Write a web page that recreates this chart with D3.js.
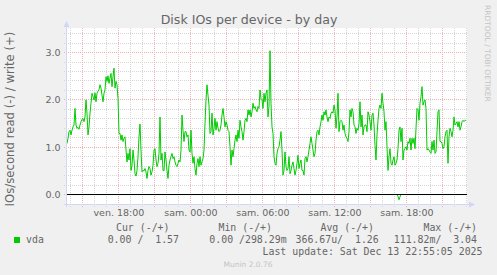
<!DOCTYPE html>
<html>
<head>
<meta charset="utf-8">
<script src="https://cdn.jsdelivr.net/npm/d3@7"></script>
<style>
  html, body { margin: 0; padding: 0; background: #f0f0f0; }
  svg { display: block; }
  text { font-family: "DejaVu Sans", sans-serif; fill: #666; }
  .mono { font-family: "DejaVu Sans Mono", monospace; white-space: pre; }
</style>
</head>
<body>
<svg id="chart" width="497" height="275"></svg>
<script>
// one sample every 5 minutes, first one at ven. 12 déc. 13:43
const startTime = Date.UTC(2025, 11, 12, 13, 43);
const stepMinutes = 5;

// write IOs/s (+)
const writeValues = [
  1.08,1.19,1.33,1.36,1.26,1.36,1.43,1.47,1.82,1.47,
  1.40,1.42,1.38,1.47,1.54,1.59,1.61,1.54,1.64,2.00,
  1.72,1.26,1.43,1.72,1.93,2.14,2.07,2.00,2.15,1.96,
  2.14,2.18,2.22,2.32,2.25,2.10,1.96,2.14,2.21,2.49,
  2.39,2.51,2.35,2.46,2.56,2.28,2.49,2.67,2.25,2.39,
  2.32,2.03,1.29,1.29,1.15,1.26,1.12,1.19,1.22,0.94,
  0.69,0.87,0.73,0.97,0.51,0.62,0.94,0.73,0.44,0.39,
  0.51,0.80,1.22,1.49,0.94,0.48,0.51,0.50,0.55,0.48,
  0.34,0.51,0.59,0.55,0.41,0.48,0.62,0.94,0.97,0.73,
  0.59,0.66,0.87,1.64,0.73,0.87,0.51,0.50,0.90,
  0.73,0.51,0.34,0.62,0.73,0.80,0.87,0.76,0.80,0.69,
  0.62,0.59,0.66,0.73,0.69,0.94,1.68,1.36,1.12,1.33,
  1.33,1.22,1.26,0.94,0.90,1.36,0.87,0.66,0.80,0.55,
  0.41,0.66,0.76,0.59,0.80,0.62,0.69,0.76,0.94,1.50,
  2.00,2.32,2.10,1.89,1.29,1.33,1.72,1.26,1.40,1.61,
  1.36,1.54,1.40,1.33,1.36,1.47,1.68,1.82,1.64,1.43,
  1.54,1.47,1.36,1.33,1.01,0.62,0.94,0.80,0.97,1.15,
  1.26,1.12,1.36,1.19,1.57,1.43,1.33,1.15,1.33,1.57,
  1.61,1.54,1.79,1.68,1.79,1.64,1.75,1.93,1.82,1.86,
  1.79,1.75,1.86,1.82,2.21,2.03,2.00,1.82,2.14,1.96,
  2.14,2.21,1.64,1.86,3.04,1.93,1.43,1.29,0.80,0.66,
  0.62,0.87,0.97,1.01,1.15,1.33,0.94,0.41,0.51,0.90,
  0.59,0.51,0.55,0.80,0.44,0.51,0.62,0.69,0.55,0.41,
  0.51,0.66,0.83,0.55,0.66,0.73,0.51,0.51,0.41,0.76,
  0.80,0.69,0.80,0.94,1.08,1.22,1.08,0.94,0.80,0.87,
  1.15,1.33,1.36,1.26,1.43,1.54,1.68,1.57,1.75,1.68,
  1.79,1.64,1.54,1.64,1.61,1.72,1.75,1.72,1.89,1.79,
  1.40,1.64,2.14,1.33,1.54,1.57,1.54,1.36,1.47,1.29,
  1.22,1.19,1.12,1.33,1.79,1.64,1.82,1.75,1.47,1.43,
  1.29,1.40,1.36,1.50,1.96,1.43,1.68,1.26,1.43,1.47,
  1.47,1.33,1.75,1.68,1.54,1.36,1.68,1.72,1.47,1.04,
  0.73,1.26,1.57,1.82,1.89,1.82,2.14,1.93,1.75,1.36,
  1.54,1.01,0.51,0.80,0.97,0.66,0.62,0.73,0.80,0.62,
  0.66,0.73,0.97,1.36,1.43,1.12,1.40,0.73,0.94,0.97,
  1.01,0.94,1.12,1.08,1.19,0.94,1.19,1.08,1.19,0.97,
  1.40,1.82,1.79,1.57,1.93,2.07,2.28,1.89,1.96,2.00,
  1.82,0.94,0.97,0.94,0.90,0.87,1.12,0.94,1.15,0.87,
  0.90,1.33,1.75,1.79,1.12,1.12,1.08,0.97,1.01,1.22,
  1.33,1.36,0.66,1.22,1.40,1.33,1.22,1.36,1.64,1.47,
  1.50,1.54,1.43,1.54,1.36,1.43,1.54,1.57,1.54,1.57,
  1.57
];

// read IOs/s, drawn negative (-)
const readValues = [
  0,0,0,0,0,0,0,0,0,0,0,0,0,0,0,0,0,0,0,0,
  0,0,0,0,0,0,0,0,0,0,0,0,0,0,0,0,0,0,0,0,
  0,0,0,0,0,0,0,0,0,0,0,0,0,0,0,0,0,0,0,0,
  0,0,0,0,0,0,0,0,0,0,0,0,0,0,0,0,0,0,0,0,
  0,0,0,0,0,0,0,0,0,0,0,0,0,0,0,0,0,0,0,0,
  0,0,0,0,0,0,0,0,0,0,0,0,0,0,0,0,0,0,0,0,
  0,0,0,0,0,0,0,0,0,0,0,0,0,0,0,0,0,0,0,0,
  0,0,0,0,0,0,0,0,0,0,0,0,0,0,0,0,0,0,0,0,
  0,0,0,0,0,0,0,0,0,0,0,0,0,0,0,0,0,0,0,0,
  0,0,0,0,0,0,0,0,0,0,0,0,0,0,0,0,0,0,0,0,
  0,0,0,0,0,0,0,0,0,0,0,0,0,0,0,0,0,0,0,0,
  0,0,0,0,0,0,0,0,0,0,0,0,0,0,0,0,0,0,0,0,
  0,0,0,0,0,0,0,0,0,0,0,0,0,0,0,0,0,0,0,0,
  0,0,0,0,0,0,0,0,0,0,0,0,0,0,0,0,0,0,0,0,
  0,0,0,0,0,0,0,0,0,0,0,0,0,0,0,0,0,0,0,0,
  0,0,0,0,0,0,0,0,0,0,0,0,0,0,0,0,0,0,0,0,
  0,0,0,0,0,0,0,0,0,0,0,-0.04,-0.11,-0.05,0,0,0,0,0,0,
  0,0,0,0,0,0,0,0,0,0,0,0,0,0,0,0,0,0,0,0,
  0,0,0,0,0,0,0,0,0,0,0,0,0,0,0,0,0,0,0,0,
  0,0,0,0,0,0,0,0,0,0,0,0,0,0,0,0,0,0,0,0
];

const yTicks = [0, 1, 2, 3];
const xTickLabels = ["ven. 18:00", "sam. 00:00", "sam. 06:00", "sam. 12:00", "sam. 18:00"];
const seriesName = "vda";
const legendHeaders = ["Cur (-/+)", "Min (-/+)", "Avg (-/+)", "Max (-/+)"];
const legendValues = ["0.00 /  1.57", "0.00 /298.29m", "366.67u/  1.26", "111.82m/  3.04"];
const titleText = "Disk IOs per device - by day";
const yLabel = "IOs/second read (-) / write (+)";
const lastUpdate = "Last update: Sat Dec 13 22:55:05 2025";

const svg = d3.select('#chart');
const plot = { left: 67, right: 467, top: 28, bottom: 204 };
const lineColor = '#00cc00';
const axisColor = '#cfd6f8';
const px = (v) => Math.floor(v) + 0.5;

const timeOf = (i) => new Date(startTime + i * stepMinutes * 60000);
const x = d3.scaleUtc()
  .domain([timeOf(0), timeOf(writeValues.length)])
  .range([plot.left, plot.right]);
const y = d3.scaleLinear().domain([-0.2, 3.52]).range([plot.bottom, plot.top]);

svg.append('rect').attr('width', 497).attr('height', 275).attr('fill', '#f0f0f0');
svg.append('rect')
  .attr('x', plot.left).attr('y', plot.top)
  .attr('width', plot.right - plot.left).attr('height', plot.bottom - plot.top)
  .attr('fill', '#fff');

// grid
const grid = svg.append('g').attr('fill', 'none').attr('stroke-dasharray', '1,1');
const minorY = d3.range(1, 18).filter((k) => k % 5 !== 0).map((k) => k * 0.2);
grid.selectAll('.hmin').data(minorY).enter().append('line')
  .attr('x1', plot.left - 3).attr('x2', plot.right)
  .attr('y1', (d) => px(y(d))).attr('y2', (d) => px(y(d)))
  .attr('stroke', '#d6d6d6');
const hours = x.ticks(d3.utcHour.every(1));
grid.selectAll('.vmin').data(hours.filter((d) => d.getUTCHours() % 3 !== 0)).enter().append('line')
  .attr('x1', (d) => px(x(d))).attr('x2', (d) => px(x(d)))
  .attr('y1', plot.top).attr('y2', plot.bottom + 3)
  .attr('stroke', '#d6d6d6');
grid.selectAll('.hmaj').data(yTicks).enter().append('line')
  .attr('x1', plot.left - 3).attr('x2', plot.right)
  .attr('y1', (d) => px(y(d))).attr('y2', (d) => px(y(d)))
  .attr('stroke', '#efb2b2');
grid.selectAll('.vmaj').data(hours.filter((d) => d.getUTCHours() % 3 === 0)).enter().append('line')
  .attr('x1', (d) => px(x(d))).attr('x2', (d) => px(x(d)))
  .attr('y1', plot.top).attr('y2', plot.bottom + 3)
  .attr('stroke', '#efb2b2');

// data
const line = d3.line().x((d, i) => x(timeOf(i))).y((d) => y(d));
svg.append('path').datum(readValues).attr('d', line)
  .attr('fill', 'none').attr('stroke', lineColor).attr('stroke-width', 1);
svg.append('path').datum(writeValues).attr('d', line)
  .attr('fill', 'none').attr('stroke', lineColor).attr('stroke-width', 1);

svg.append('line')
  .attr('x1', plot.left).attr('x2', plot.right)
  .attr('y1', px(y(0))).attr('y2', px(y(0)))
  .attr('stroke', '#000');

// axes lines + arrows
svg.append('line').attr('x1', plot.left - 0.5).attr('x2', plot.left - 0.5)
  .attr('y1', plot.top - 2).attr('y2', plot.bottom + 3).attr('stroke', axisColor);
svg.append('line').attr('x1', plot.left - 3).attr('x2', plot.right + 2)
  .attr('y1', plot.bottom + 0.5).attr('y2', plot.bottom + 0.5).attr('stroke', axisColor);
svg.append('polygon').attr('points', '63.5,27 66.5,21 69.5,27').attr('fill', axisColor);
svg.append('polygon').attr('points', '469,201.5 475,204.5 469,207.5').attr('fill', axisColor);

// tick labels
const yAxis = svg.append('g').attr('transform', `translate(${plot.left},0)`)
  .call(d3.axisLeft(y).tickValues(yTicks).tickFormat(d3.format('.1f')).tickSize(0).tickPadding(6.5));
const labelTicks = x.ticks(d3.utcHour.every(6));
const xAxis = svg.append('g').attr('transform', `translate(0,${plot.bottom})`)
  .call(d3.axisBottom(x).tickValues(labelTicks).tickFormat((d, i) => xTickLabels[i]).tickSize(0).tickPadding(5.3));
[yAxis, xAxis].forEach((g) => {
  g.select('.domain').remove();
  g.selectAll('text').attr('font-family', '"DejaVu Sans", sans-serif')
    .attr('font-size', '9.5px').attr('fill', '#666');
});

// titles
svg.append('text').attr('x', 249).attr('y', 24).attr('text-anchor', 'middle')
  .attr('font-size', '12.6px').text(titleText);
svg.append('text').attr('transform', 'translate(14,119) rotate(-90)')
  .attr('text-anchor', 'middle').attr('font-size', '11.7px').text(yLabel);
svg.append('text').attr('transform', 'translate(485,5) rotate(90)')
  .attr('font-size', '7.5px').style('fill', '#c4c4c4').text('RRDTOOL / TOBI OETIKER');

// legend
svg.append('rect').attr('x', 14).attr('y', 237).attr('width', 6).attr('height', 6).attr('fill', lineColor);
svg.append('text').attr('class', 'mono').attr('x', 26).attr('y', 243)
  .attr('font-size', '9.9px').text(seriesName);
const headerEnds = [169.5, 272, 374, 477];
// value columns: [anchor, x]
const valuePos = [['end', 179], ['start', 209.3], ['start', 295.5], ['end', 477]];
svg.selectAll('.lh').data(legendHeaders).enter().append('text')
  .attr('class', 'mono').attr('text-anchor', 'end')
  .attr('x', (d, i) => headerEnds[i]).attr('y', 231)
  .attr('font-size', '9.9px').text((d) => d);
svg.selectAll('.lv').data(legendValues).enter().append('text')
  .attr('class', 'mono').attr('text-anchor', (d, i) => valuePos[i][0])
  .attr('x', (d, i) => valuePos[i][1]).attr('y', 243)
  .attr('font-size', '9.9px').text((d) => d);
svg.append('text').attr('class', 'mono').attr('text-anchor', 'end')
  .attr('x', 482.5).attr('y', 254.5).attr('font-size', '9.9px').text(lastUpdate);
svg.append('text').attr('x', 248).attr('y', 267).attr('text-anchor', 'middle')
  .attr('font-size', '7.5px').style('fill', '#c4c4c4').text('Munin 2.0.76');
</script>
</body>
</html>
